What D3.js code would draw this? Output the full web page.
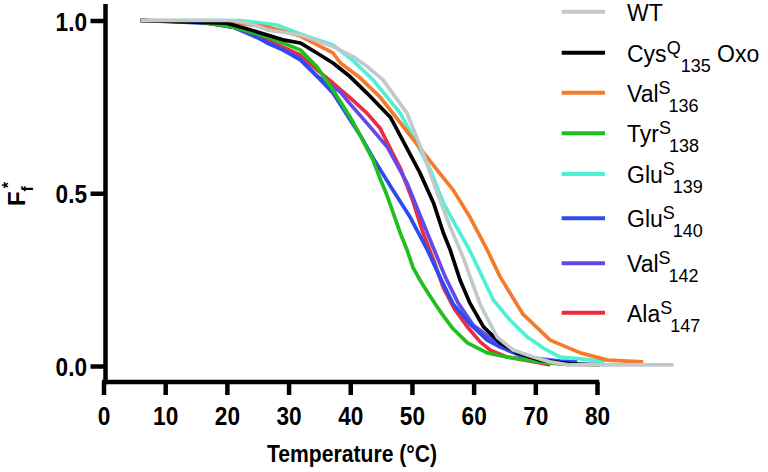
<!DOCTYPE html>
<html><head><meta charset="utf-8">
<script src="https://cdn.jsdelivr.net/npm/d3@7"></script>
<style>body{margin:0;background:#fff}svg{display:block}text{font-family:"Liberation Sans",Arial,Helvetica,sans-serif}</style>
</head><body>
<svg id="c" width="768" height="472"></svg>
<script>
// ---------- data ----------
const xTicks = [0, 10, 20, 30, 40, 50, 60, 70, 80];
const yTicks = [0.0, 0.5, 1.0];
const yTickLabels = ["0.0", "0.5", "1.0"];
const xTitle = "Temperature (°C)";

const seriesMain = ["WT", "Cys", "Val", "Tyr", "Glu", "Glu", "Val", "Ala"];
const seriesSup  = ["", "Q", "S", "S", "S", "S", "S", "S"];
const seriesSub  = ["", "135", "136", "138", "139", "140", "142", "147"];
const seriesRest = ["", " Oxo", "", "", "", "", "", ""];

const wtT = [6, 21, 24, 26.5, 32, 37.3, 40.5, 42.8, 45.3, 49.2, 51.8, 54.1, 56.2, 58.3, 59.8, 61.1, 63.8, 66.4, 69.7, 72.4, 75.6, 80.5, 92.4];
const wtV = [1, 1, 0.99, 0.973, 0.958, 0.924, 0.895, 0.866, 0.828, 0.732, 0.616, 0.501, 0.402, 0.315, 0.24, 0.177, 0.084, 0.046, 0.026, 0.012, 0.003, 0.003, 0.003];

const cysT = [6, 12.4, 20, 23.8, 29.1, 31.9, 34.6, 37.2, 40, 42.7, 46.5, 49.2, 51.3, 53.5, 55.1, 56.2, 57.8, 59.4, 61.6, 64.3, 67.1, 70.8, 75.7, 80.5];
const cysV = [1, 0.997, 0.992, 0.973, 0.944, 0.935, 0.906, 0.877, 0.837, 0.79, 0.72, 0.63, 0.559, 0.472, 0.385, 0.336, 0.249, 0.182, 0.113, 0.067, 0.038, 0.017, 0.006, 0.003];

const val136T = [6, 18.9, 26.5, 31.9, 37.2, 38.4, 41.6, 44.8, 46.5, 50.9, 54.1, 56.7, 59.4, 62.2, 64.3, 68, 72.4, 77.3, 81.7, 87.5];
const val136V = [1, 0.999, 0.982, 0.955, 0.906, 0.877, 0.834, 0.779, 0.741, 0.64, 0.567, 0.509, 0.431, 0.336, 0.258, 0.15, 0.075, 0.038, 0.017, 0.012];

const tyr138T = [6, 15.7, 21, 26.5, 29.1, 31.9, 34.6, 37.2, 40, 41.6, 43.7, 44.8, 46, 48.1, 49.2, 50.2, 51.3, 52.5, 54.1, 55.1, 56.7, 59, 62.2, 65.4, 68.7, 71.9, 75.7];
const tyr138V = [1, 0.996, 0.981, 0.953, 0.935, 0.915, 0.866, 0.799, 0.72, 0.668, 0.596, 0.544, 0.492, 0.385, 0.336, 0.284, 0.249, 0.214, 0.171, 0.145, 0.107, 0.067, 0.038, 0.026, 0.017, 0.009, 0.004];

const glu139T = [6, 22.1, 28.1, 31.9, 37.2, 40, 43.7, 48.1, 50.9, 53, 55.1, 57, 59.2, 61.1, 63.2, 65.9, 68.7, 71.3, 74, 77.8, 81.3];
const glu139V = [1, 1, 0.987, 0.961, 0.929, 0.891, 0.828, 0.732, 0.64, 0.567, 0.472, 0.41, 0.34, 0.27, 0.191, 0.133, 0.084, 0.052, 0.026, 0.02, 0.012];

const glu140T = [6, 12.1, 17.8, 21, 23.8, 26.5, 29.1, 31.9, 34.6, 37.2, 40, 41.6, 43.7, 46.5, 49.7, 52.5, 54.6, 56.7, 59.4, 62.2, 64.3, 67.1, 69.7, 74, 76.8];
const glu140V = [1, 0.996, 0.991, 0.981, 0.964, 0.935, 0.915, 0.886, 0.839, 0.79, 0.712, 0.668, 0.602, 0.521, 0.431, 0.336, 0.255, 0.179, 0.122, 0.075, 0.055, 0.035, 0.023, 0.014, 0.012];

const val142T = [6, 15.7, 21, 26.5, 31.9, 34.6, 38.4, 40, 42.7, 46, 49.2, 51.3, 53.5, 55.4, 57.5, 59.9, 62.7, 65.5, 68, 71.6, 75.7];
const val142V = [1, 0.996, 0.981, 0.938, 0.89, 0.839, 0.793, 0.758, 0.703, 0.634, 0.53, 0.437, 0.341, 0.258, 0.182, 0.119, 0.081, 0.046, 0.026, 0.014, 0.009];

const ala147T = [6, 15.7, 21, 26.5, 31.9, 34.6, 37.2, 40, 42.7, 44.8, 48.1, 50.2, 51.8, 53.5, 55.1, 57, 59, 61.1, 62.7, 65.4, 70.8, 72.4];
const ala147V = [1, 0.996, 0.981, 0.944, 0.9, 0.857, 0.819, 0.776, 0.732, 0.689, 0.573, 0.475, 0.385, 0.307, 0.226, 0.162, 0.113, 0.069, 0.046, 0.026, 0.009, 0.003];

// ---------- styles / layout ----------
const colors = ["#c2c9cb", "#000000", "#f47a2c", "#1fbf1f", "#4ef0d6", "#2d4bef", "#6549e4", "#ee2b3f"];
const legendY = [11.7, 52.7, 92.7, 133.3, 174, 218.3, 263.3, 312.7];

const temps = [wtT, cysT, val136T, tyr138T, glu139T, glu140T, val142T, ala147T];
const vals  = [wtV, cysV, val136V, tyr138V, glu139V, glu140V, val142V, ala147V];
const series = temps.map((t, i) => ({ i, pts: t.map((tt, k) => [tt, vals[i][k]]) }));

const svg = d3.select("#c");
const x = d3.scaleLinear().domain([0, 80]).range([103.5, 597]);
const y = d3.scaleLinear().domain([0, 1]).range([366, 20.5]);
const axisY0 = 382, axisX0 = 105.5;
const yLo = y.invert(axisY0), yHi = y.invert(4);
const AW = 4.5;
const SX = 0.87;

// curves (WT drawn last, on top)
const line = d3.line().x(d => x(d[0])).y(d => y(d[1]));
svg.append("g").selectAll("path").data(series.slice().reverse()).join("path")
  .attr("d", d => line(d.pts))
  .attr("fill", "none")
  .attr("stroke", d => colors[d.i])
  .attr("stroke-width", 3.7)
  .attr("stroke-linejoin", "round");

// x axis
const gx = svg.append("g").attr("transform", `translate(0,${axisY0})`)
  .call(d3.axisBottom(x).tickValues(xTicks).tickSize(13).tickSizeOuter(0).tickFormat(d3.format("d")));
gx.select(".domain").remove();
gx.selectAll(".tick line").attr("stroke", "#000").attr("stroke-width", AW);
gx.selectAll(".tick text").attr("y", 43).attr("dy", null)
  .attr("transform", `scale(${SX},1)`)
  .style("font-size", "26px").style("font-weight", "bold").attr("fill", "#000");
svg.append("line").attr("x1", x(0) - 1.5).attr("x2", x(80) + 2.2)
  .attr("y1", axisY0).attr("y2", axisY0).attr("stroke", "#000").attr("stroke-width", AW);

// y axis
const gy = svg.append("g").attr("transform", `translate(${axisX0},0)`)
  .call(d3.axisLeft(y).tickValues(yTicks).tickSize(15).tickSizeOuter(0).tickFormat((d, k) => yTickLabels[k]));
gy.select(".domain").remove();
gy.selectAll(".tick line").attr("stroke", "#000").attr("stroke-width", AW);
gy.selectAll(".tick text").attr("x", -18.5 / SX).attr("y", 9.5).attr("dy", null)
  .attr("transform", `scale(${SX},1)`)
  .style("font-size", "26px").style("font-weight", "bold").attr("fill", "#000");
svg.append("line").attr("x1", axisX0).attr("x2", axisX0)
  .attr("y1", y(yHi)).attr("y2", y(yLo) + 2.2).attr("stroke", "#000").attr("stroke-width", AW);

// x title
svg.append("text").attr("transform", `translate(352,462) scale(0.92,1)`)
  .attr("text-anchor", "middle").style("font-size", "23px").style("font-weight", "bold")
  .text(xTitle);

// y title F_f^*
const yt = svg.append("text").attr("transform", "translate(25,194) rotate(-90)")
  .attr("text-anchor", "middle").style("font-weight", "bold").style("font-size", "24px");
yt.append("tspan").text("F");
yt.append("tspan").attr("dy", 8).style("font-size", "16px").text("f");
yt.append("tspan").attr("dy", -19).attr("dx", -2).style("font-size", "16px").text("*");

// legend
const lg = svg.append("g");
series.forEach(s => {
  const i = s.i, ly = legendY[i];
  lg.append("line").attr("x1", 561.7).attr("x2", 605).attr("y1", ly).attr("y2", ly)
    .attr("stroke", colors[i]).attr("stroke-width", 4);
  const t = lg.append("text").attr("x", 627).attr("y", Math.max(ly + 9, 21.2))
    .style("font-size", "23px").attr("fill", "#000").attr("xml:space", "preserve").style("white-space", "pre");
  t.append("tspan").text(seriesMain[i]);
  if (seriesSup[i]) t.append("tspan").attr("dy", -8).style("font-size", "18px").text(seriesSup[i]);
  if (seriesSub[i]) t.append("tspan").attr("dy", 18).attr("dx", seriesSup[i] === "Q" ? 0 : -2).style("font-size", "18px").text(seriesSub[i]);
  if (seriesRest[i]) t.append("tspan").attr("dy", -10).style("font-size", "23px").text(seriesRest[i]);
});
</script>
</body></html>
